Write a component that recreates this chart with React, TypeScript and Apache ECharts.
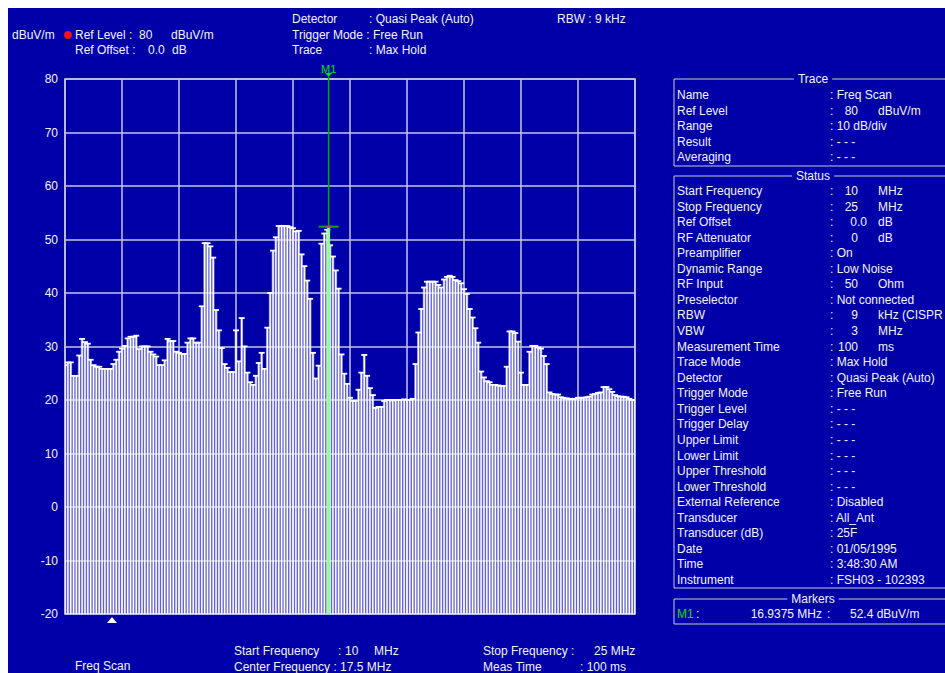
import React, { useEffect, useRef } from "react";
import * as echarts from "echarts";

// ---------- data ----------
const startMHz = 10;
const stopMHz = 25;
const stepMHz = 0.075;
const levelsDbuv = [
  26.5, 27, 27, 24.5, 24.5, 28.3, 31.4, 30.8, 30.5, 27.5,
  26.5, 26.2, 26.2, 25.8, 25.8, 25.8, 25.8, 26.7, 27.5, 29,
  29.6, 30.1, 31.5, 31.8, 31.8, 32, 29.5, 30, 30, 30,
  29, 28.5, 28.1, 26.5, 26.5, 27.4, 31.4, 31, 31, 29,
  28.8, 28.6, 28.6, 30.7, 31.5, 31.5, 30.7, 30.7, 37.5, 49.3,
  49.3, 48.7, 46.6, 36.8, 33, 29.7, 26.7, 26, 25.2, 25.2,
  33, 27.2, 35.3, 30, 25.1, 23.3, 22.8, 24.5, 26.9, 28.8,
  25.8, 33.5, 40, 47.9, 50.4, 52.5, 52.5, 52.5, 52.5, 52.3,
  52.1, 51.5, 51.6, 47.2, 45, 42.3, 38.9, 28.8, 24, 26.4,
  49.2, 51.1, 51.8, 48.9, 46.8, 44.2, 40.8, 28.5, 24.9, 23,
  20.4, 19.8, 19.8, 21.9, 25.1, 28.4, 24.5, 22.2, 20.9, 18.5,
  18.7, 18.7, 19.8, 20, 20, 19.9, 20, 20, 20, 20.1,
  20, 20, 20.2, 26.7, 32.6, 37, 41, 42.1, 42.1, 42.1,
  42.1, 41.5, 41, 42.5, 43, 43.2, 43, 42.4, 42.2, 41.8,
  40.7, 39.8, 37, 35.4, 33.4, 30.7, 25.3, 24.2, 23.5, 23.3,
  22.8, 22.8, 22.7, 22.6, 22.6, 26.2, 32.8, 32.8, 32.5, 30.9,
  25.1, 22.8, 22.8, 29, 30.1, 30.1, 29.8, 29.6, 28.2, 26.7,
  21.4, 21.1, 21, 21, 20.5, 20.4, 20.3, 20.2, 20.2, 20.2,
  20.4, 20.4, 20.4, 20.5, 20.6, 21, 21.1, 21.3, 21.4, 22.4,
  22.4, 22, 21.5, 20.9, 20.7, 20.6, 20.6, 20.5, 20.2, 20,
  20,
];
const yMin = -20;
const yMax = 80;
const yStep = 10;
const xDivMHz = 1.5;
const markerFreqMHz = 16.9375;
const markerLevel = 52.4;

const traceRows: string[][] = [
  ["Name", "Freq Scan"],
  ["Ref Level", "80", "dBuV/m"],
  ["Range", "10 dB/div"],
  ["Result", "- - -"],
  ["Averaging", "- - -"],
];
const statusRows: string[][] = [
  ["Start Frequency", "10", "MHz"],
  ["Stop Frequency", "25", "MHz"],
  ["Ref Offset", "0.0", "dB"],
  ["RF Attenuator", "0", "dB"],
  ["Preamplifier", "On"],
  ["Dynamic Range", "Low Noise"],
  ["RF Input", "50", "Ohm"],
  ["Preselector", "Not connected"],
  ["RBW", "9", "kHz (CISPR"],
  ["VBW", "3", "MHz"],
  ["Measurement Time", "100", "ms"],
  ["Trace Mode", "Max Hold"],
  ["Detector", "Quasi Peak (Auto)"],
  ["Trigger Mode", "Free Run"],
  ["Trigger Level", "- - -"],
  ["Trigger Delay", "- - -"],
  ["Upper Limit", "- - -"],
  ["Lower Limit", "- - -"],
  ["Upper Threshold", "- - -"],
  ["Lower Threshold", "- - -"],
  ["External Reference", "Disabled"],
  ["Transducer", "All_Ant"],
  ["Transducer (dB)", "25F"],
  ["Date", "01/05/1995"],
  ["Time", "3:48:30 AM"],
  ["Instrument", "FSH03 - 102393"],
];

// ---------- styling ----------
const BG = "#0000a8";
const FG = "#f4f4ff";
const GRIDC = "#c4c4e6";
const BOXC = "#c8c8d8";
const FONT = '"Liberation Sans", Arial, sans-serif';
const OFF = 8; // chart origin on page

function T(x: number, y: number, text: string, align = "left", fill = FG, size = 12, extra: any = {}) {
  return {
    type: "text",
    x: x - OFF,
    y: y - OFF,
    silent: true,
    z: 10,
    style: {
      text,
      fill,
      font: `${size}px ${FONT}`,
      align,
      verticalAlign: "middle",
      textAlign: align,
      textVerticalAlign: "middle",
      ...extra,
    },
  };
}

function box(x: number, y: number, h: number, title: string) {
  return [
    {
      type: "rect",
      silent: true,
      z: 5,
      shape: { x: x - OFF, y: y - OFF, width: 400, height: h },
      style: { fill: "none", stroke: BOXC, lineWidth: 1 },
    },
    T(813, y, title, "center", FG, 12, { backgroundColor: BG, padding: [0, 4] }),
  ];
}

function rows(list: string[][], y0: number, dy: number) {
  const out: any[] = [];
  list.forEach((r, k) => {
    const y = y0 + dy * k;
    out.push(T(677, y, r[0]));
    if (r.length === 2) {
      out.push(T(830, y, ": " + r[1]));
    } else {
      out.push(T(830, y, ":"));
      out.push(T(r[1].includes(".") ? 867 : 858, y, r[1], "right"));
      out.push(T(878, y, r[2]));
    }
  });
  return out;
}

export default function App() {
  const ref = useRef<HTMLDivElement>(null);
  useEffect(() => {
    if (!ref.current) return;
    const chart = echarts.init(ref.current, undefined, { renderer: "svg" });
    const span = stopMHz - startMHz;
    const barData = levelsDbuv.map((v, i) => [+(i * stepMHz).toFixed(4), v]);

    const graphic: any[] = [
      // header
      T(12, 35, "dBuV/m"),
      { type: "circle", silent: true, shape: { cx: 68 - OFF, cy: 35 - OFF, r: 4 }, style: { fill: "#ff1010" } },
      T(75, 35, "Ref Level :"),
      T(139, 35, "80"),
      T(171, 35, "dBuV/m"),
      T(75, 50, "Ref Offset :"),
      T(148, 50, "0.0"),
      T(172, 50, "dB"),
      T(292, 19, "Detector"),
      T(369, 19, ": Quasi Peak (Auto)"),
      T(292, 35, "Trigger Mode : Free Run"),
      T(292, 50, "Trace"),
      T(369, 50, ": Max Hold"),
      T(557, 19, "RBW : 9 kHz"),
      // bottom
      {
        type: "polygon",
        silent: true,
        shape: { points: [[107 - OFF, 623 - OFF], [117 - OFF, 623 - OFF], [112 - OFF, 617 - OFF]] },
        style: { fill: "#ffffff" },
      },
      T(75, 666, "Freq Scan"),
      T(234, 651, "Start Frequency"),
      T(338, 651, ":"),
      T(345, 651, "10"),
      T(374, 651, "MHz"),
      T(234, 667, "Center Frequency : 17.5 MHz"),
      T(483, 651, "Stop Frequency :"),
      T(594, 651, "25 MHz"),
      T(483, 667, "Meas Time"),
      T(580, 667, ": 100 ms"),
      // right panel
      ...box(674, 79, 87, "Trace"),
      ...rows(traceRows, 95, 15.5),
      ...box(674, 176, 412, "Status"),
      ...rows(statusRows, 191, 15.56),
      ...box(674, 599, 25, "Markers"),
      T(677, 614, "M1", "left", "#00e000"),
      T(696, 614, ":"),
      T(822, 614, markerFreqMHz.toFixed(4) + " MHz", "right"),
      T(827, 614, ":"),
      T(850, 614, markerLevel.toFixed(1) + " dBuV/m"),
    ];

    chart.setOption({
      animation: false,
      backgroundColor: BG,
      grid: {
        left: 57,
        right: 310,
        top: 71,
        bottom: 59,
        show: true,
        borderColor: GRIDC,
        borderWidth: 1.5,
      },
      xAxis: {
        type: "value",
        min: 0,
        max: span,
        interval: xDivMHz,
        axisLine: { show: false },
        axisTick: { show: false },
        axisLabel: { show: false },
        splitLine: { show: true, lineStyle: { color: GRIDC, width: 1.5 } },
      },
      yAxis: {
        type: "value",
        min: yMin,
        max: yMax,
        interval: yStep,
        axisLine: { show: false },
        axisTick: { show: false },
        axisLabel: { color: FG, fontSize: 12, fontFamily: FONT, margin: 7 },
        splitLine: { show: true, lineStyle: { color: GRIDC, width: 1.5 } },
      },
      graphic,
      series: [
        {
          type: "custom",
          name: "Trace",
          clip: true,
          z: 3,
          data: barData,
          renderItem: (params: any, api: any) => {
            const x = api.value(0);
            const v = api.value(1);
            const top = api.coord([x, v]);
            const base = api.coord([x, yMin]);
            const h = base[1] - top[1];
            return {
              type: "group",
              children: [
                { type: "rect", shape: { x: top[0] - 1.4, y: top[1], width: 2.8, height: h }, style: { fill: "rgba(205,205,250,0.6)" } },
                { type: "rect", shape: { x: top[0] - 0.7, y: top[1], width: 1.4, height: h }, style: { fill: "#ffffff" } },
                { type: "rect", shape: { x: top[0] - 3, y: top[1] - 1, width: 6, height: 1.8 }, style: { fill: "#ffffff" } },
              ],
            };
          },
        },
        {
          type: "custom",
          name: "M1",
          clip: false,
          z: 6,
          data: [[markerFreqMHz - startMHz, markerLevel]],
          renderItem: (params: any, api: any) => {
            const x = api.value(0);
            const v = api.value(1);
            const p = api.coord([x, v]);
            const base = api.coord([x, yMin]);
            const tp = api.coord([x, yMax]);
            return {
              type: "group",
              children: [
                { type: "rect", shape: { x: p[0] - 1.5, y: p[1], width: 3, height: base[1] - p[1] }, style: { fill: "#90ff90" } },
                { type: "line", shape: { x1: p[0], y1: tp[1] - 2, x2: p[0], y2: p[1] }, style: { stroke: "#00a800", lineWidth: 1.5 } },
                { type: "line", shape: { x1: p[0] - 10, y1: p[1], x2: p[0] + 10, y2: p[1] }, style: { stroke: "#00b000", lineWidth: 2 } },
                { type: "line", shape: { x1: p[0] - 3, y1: p[1], x2: p[0] + 3, y2: p[1] }, style: { stroke: "#c04060", lineWidth: 2 } },
                {
                  type: "polygon",
                  shape: { points: [[p[0] - 3.5, tp[1] - 6], [p[0] + 3.5, tp[1] - 6], [p[0], tp[1] - 2]] },
                  style: { fill: "#00e000" },
                },
                {
                  type: "text",
                  x: p[0],
                  y: tp[1] - 10,
                  style: {
                    text: "M1",
                    fill: "#00e000",
                    font: `11px ${FONT}`,
                    align: "center",
                    verticalAlign: "middle",
                    textAlign: "center",
                    textVerticalAlign: "middle",
                  },
                },
              ],
            };
          },
        },
      ],
    });
    return () => chart.dispose();
  }, []);

  return (
    <div
      ref={ref}
      style={{ position: "fixed", left: 8, top: 8, width: 937, height: 665 }}
    />
  );
}
